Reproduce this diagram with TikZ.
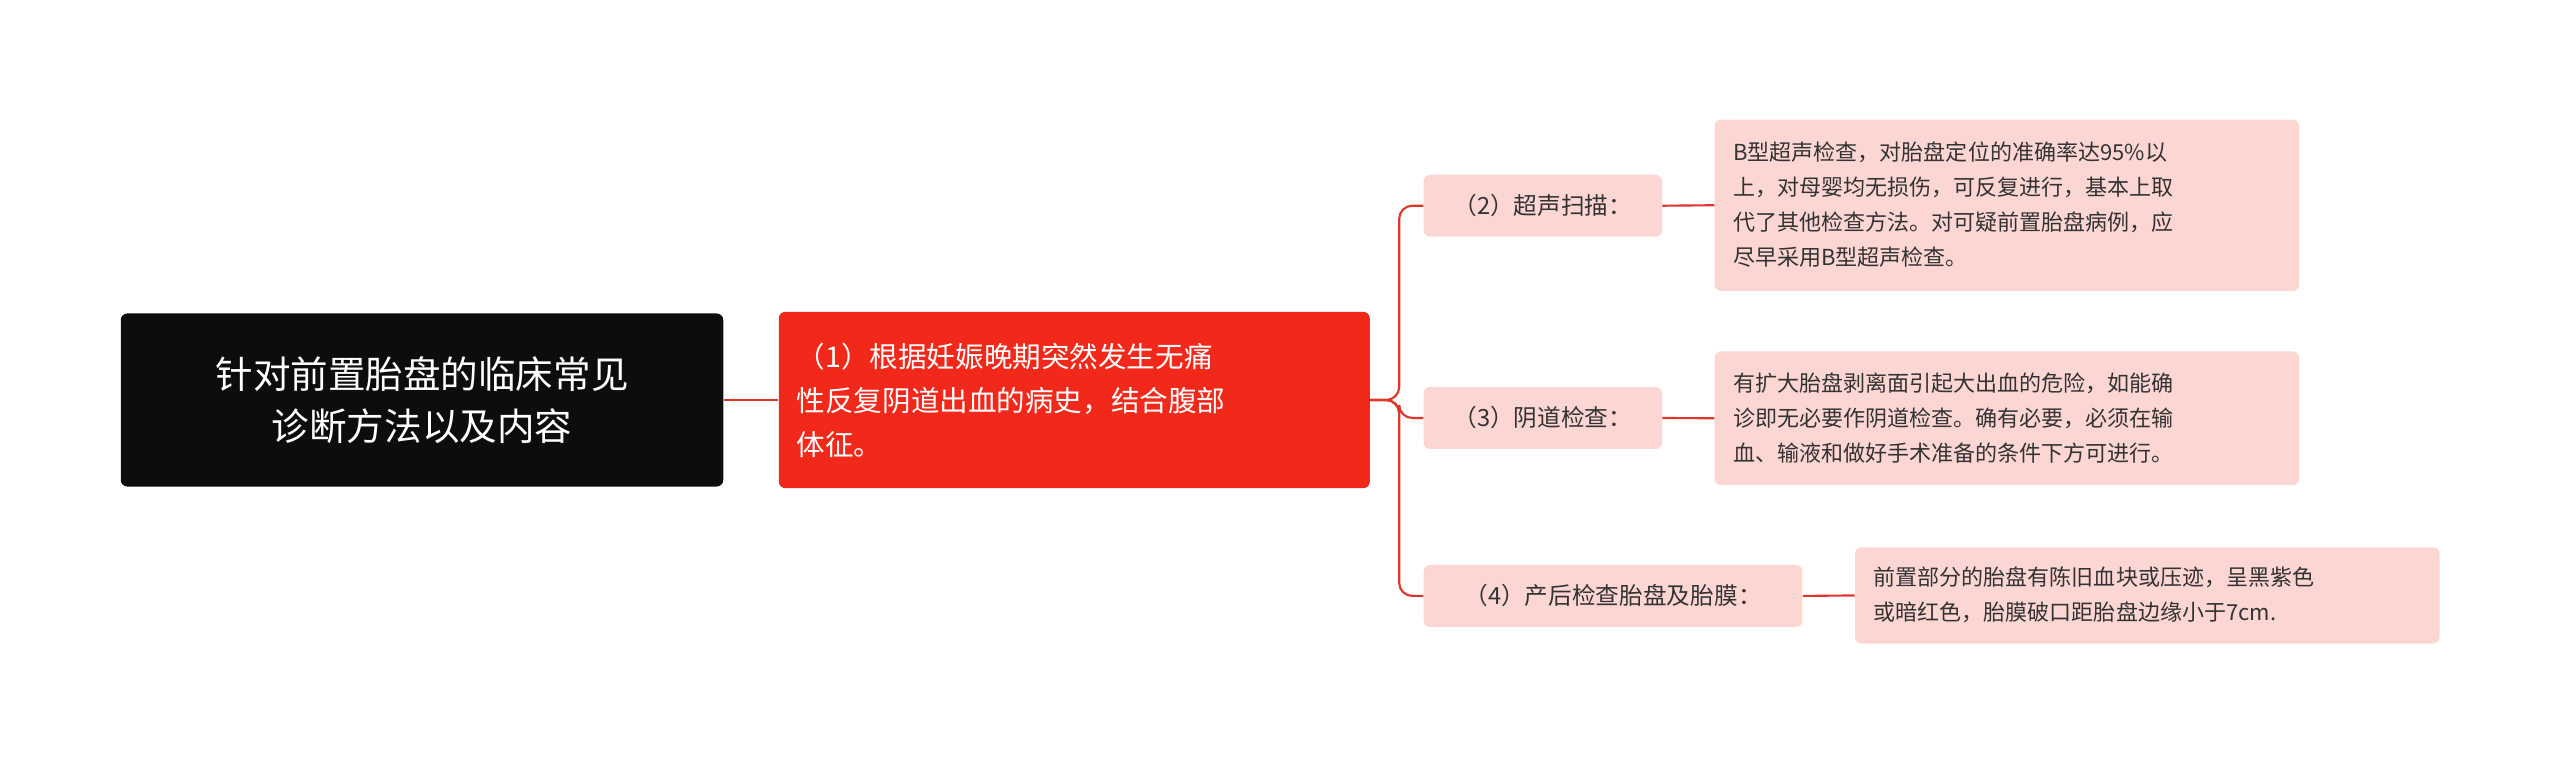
\documentclass[tikz,border=0pt]{standalone}
\usepackage{fontspec}
\setmainfont{Noto Sans CJK SC}
\begin{document}
\begin{tikzpicture}[x=1pt,y=-1pt,
  conn/.style={draw=red!75!black!90!orange, line width=1.3pt, rounded corners=8pt},
  leaf/.style={fill=pink!45!white, rounded corners=4pt, anchor=north west, inner sep=0pt, font=\fontsize{13.5}{21}\selectfont, text=black!80},
  lab/.style={fill=pink!45!white, rounded corners=4pt, inner sep=0pt, font=\fontsize{14.5}{18}\selectfont, text=black!80}]
\definecolor{cr}{HTML}{E0352B}
\definecolor{pk}{HTML}{FCD6D3}
\tikzset{conn/.style={draw=cr, line width=1.3pt, rounded corners=8pt},
  leaf/.append style={fill=pk}, lab/.append style={fill=pk}}
\useasboundingbox (0,0) rectangle (1568,468.6);
\node[fill=black!95, rounded corners=4pt, minimum width=369pt, minimum height=106pt, text=white, align=center, font=\fontsize{23}{32}\selectfont] (root) at (258.5,245) {针对前置胎盘的临床常见\\诊断方法以及内容};
\node[fill={rgb,255:red,242;green,40;blue,26}, rounded corners=4pt, minimum width=362pt, minimum height=108pt, text=white, align=left, text width=340pt, font=\fontsize{17.5}{27}\selectfont] (red) at (658,245) {（1）根据妊娠晚期突然发生无痛\\性反复阴道出血的病史，结合腹部\\体征。};
\node[lab, minimum width=146pt, minimum height=38pt] (l2) at (945,126) {（2）超声扫描：};
\node[lab, minimum width=146pt, minimum height=38pt] (l3) at (945,256) {（3）阴道检查：};
\node[lab, minimum width=232pt, minimum height=38pt] (l4) at (988,365) {（4）产后检查胎盘及胎膜：};
\node[leaf, minimum width=358pt, minimum height=105pt] (a) at (1050,73) {};
\node[anchor=west, align=left, font=\fontsize{13.5}{21.5}\selectfont, text=black!80] at (1058,125.5) {B型超声检查，对胎盘定位的准确率达95\%以\\上，对母婴均无损伤，可反复进行，基本上取\\代了其他检查方法。对可疑前置胎盘病例，应\\尽早采用B型超声检查。};
\node[leaf, minimum width=358pt, minimum height=82pt] (b) at (1050,215) {};
\node[anchor=west, align=left, font=\fontsize{13.5}{21.5}\selectfont, text=black!80] at (1058,256) {有扩大胎盘剥离面引起大出血的危险，如能确\\诊即无必要作阴道检查。确有必要，必须在输\\血、输液和做好手术准备的条件下方可进行。};
\node[leaf, minimum width=358pt, minimum height=59pt] (c) at (1136,335) {};
\node[anchor=west, align=left, font=\fontsize{13.5}{21.5}\selectfont, text=black!80] at (1144,364.5) {前置部分的胎盘有陈旧血块或压迹，呈黑紫色\\或暗红色，胎膜破口距胎盘边缘小于7cm.};
\draw[conn] (root.east) -- (red.west);
\coordinate (j) at (857,245);
\draw[conn] (red.east) -- (j) |- (l2.west);
\draw[conn] (red.east) -- (j) |- (l3.west);
\draw[conn] (red.east) -- (j) |- (l4.west);
\draw[conn] (l2.east) -- (a.west);
\draw[conn] (l3.east) -- (b.west);
\draw[conn] (l4.east) -- (c.west);
\end{tikzpicture}
\end{document}
